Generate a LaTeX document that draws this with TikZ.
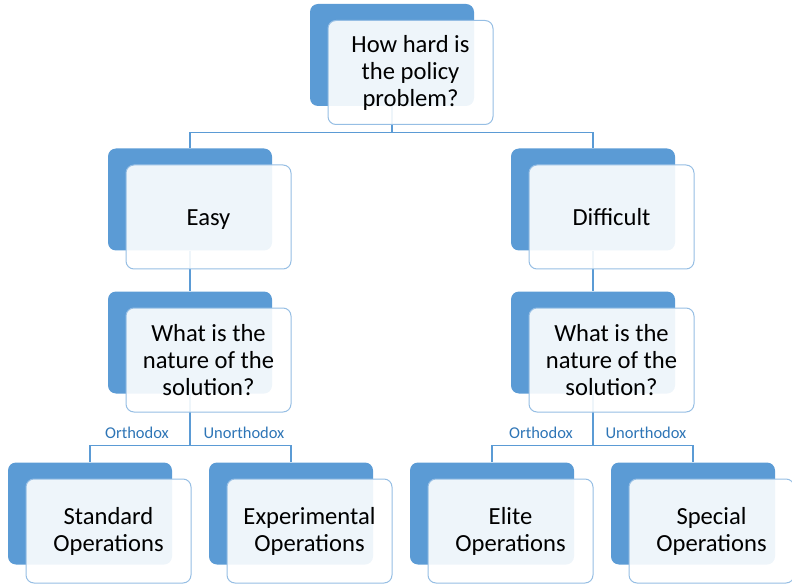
\documentclass[tikz,border=0pt]{standalone}
\usepackage{fontspec}
\setmainfont{Carlito}
\usetikzlibrary{positioning,calc}
\definecolor{accent}{RGB}{91,155,213}
\definecolor{rim}{RGB}{150,190,228}
\definecolor{lbltxt}{RGB}{46,117,182}

\begin{document}
\begin{tikzpicture}[x=1pt,y=-1pt,
    back/.style={rectangle,rounded corners=8pt,fill=accent,minimum width=164pt,minimum height=102pt},
    front/.style={rectangle,rounded corners=8pt,draw=rim,line width=1pt,fill=white,fill opacity=0.9,text opacity=1,minimum width=165pt,minimum height=104pt,align=center,font=\fontsize{24.6}{27}\selectfont},
    oneline/.style={text height=17pt,text depth=0pt},
    link/.style={draw=accent,line width=1.2pt},
    lbl/.style={text=lbltxt,font=\fontsize{16.5}{18}\selectfont}]
    \useasboundingbox (0,0) rectangle (792,585);
    % back shapes
    \node[back](qd) at (392,55){};
    \node[back](easyd) at (190,199.5){};
    \node[back](hardd) at (593,199.5){};
    \node[back](enatd) at (190,342.5){};
    \node[back](hnatd) at (593,342.5){};
    \node[back](stdd) at (90,513.5){};
    \node[back](expd) at (291,513.5){};
    \node[back](elited) at (492,513.5){};
    \node[back](specd) at (693,513.5){};
    % connectors
    \draw[link](qd.south) -- +(0,26) coordinate(qb) -| (easyd.north);
    \draw[link](qb) -| (hardd.north);
    \draw[link](easyd.south) -- (enatd.north);
    \draw[link](hardd.south) -- (hnatd.north);
    \draw[link](enatd.south) -- +(0,51.5) coordinate(eb) -| (stdd.north);
    \draw[link](eb) -| (expd.north);
    \draw[link](hnatd.south) -- +(0,51.5) coordinate(hb) -| (elited.north);
    \draw[link](hb) -| (specd.north);
    \node[lbl](eorth) at ($(eb)+(-53,-12)$){Orthodox};
    \node[lbl](eunor) at ($(eb)+(54,-12)$){Unorthodox};
    \node[lbl](horth) at ($(hb)+(-52,-12)$){Orthodox};
    \node[lbl](hunor) at ($(hb)+(53,-12)$){Unorthodox};
    % front shapes
    \node[front](q) at ($(qd)+(18.5,17.5)$){How hard is\\the policy\\problem?};
    \node[front,oneline](easy) at ($(easyd)+(18.5,17.5)$){Easy};
    \node[front,oneline](hard) at ($(hardd)+(18.5,17.5)$){Difficult};
    \node[front](enat) at ($(enatd)+(18.5,17.5)$){What is the\\nature of the\\solution?};
    \node[front](hnat) at ($(hnatd)+(18.5,17.5)$){What is the\\nature of the\\solution?};
    \node[front](std) at ($(stdd)+(18.5,17.5)$){Standard\\Operations};
    \node[front](exp) at ($(expd)+(18.5,17.5)$){Experimental\\Operations};
    \node[front](elite) at ($(elited)+(18.5,17.5)$){Elite\\Operations};
    \node[front](spec) at ($(specd)+(18.5,17.5)$){Special\\Operations};
\end{tikzpicture}
\end{document}
